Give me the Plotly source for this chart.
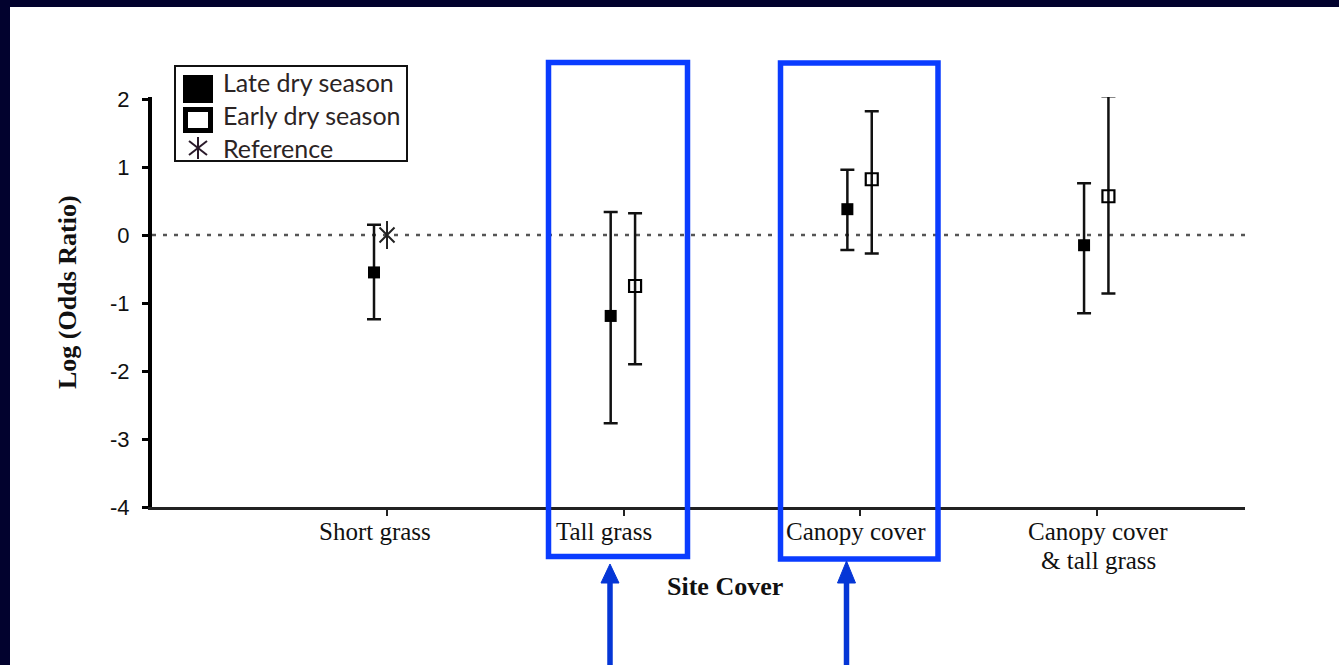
import plotly.graph_objects as go

# ---- data -------------------------------------------------------------
categories = ["Short grass", "Tall grass", "Canopy cover", "Canopy cover<br>& tall grass"]

late_idx = [0, 1, 2, 3]
late_val = [-0.55, -1.19, 0.38, -0.15]
late_lo = [-1.24, -2.77, -0.22, -1.15]
late_hi = [0.15, 0.34, 0.96, 0.76]

early_idx = [1, 2, 3]
early_val = [-0.75, 0.82, 0.57]
early_lo = [-1.90, -0.27, -0.86]
early_hi = [0.32, 1.82, 2.04]

ref_idx = [0]
ref_val = [0.0]

y_ticks = [-4, -3, -2, -1, 0, 1, 2]
y_ticktext = ["-4", "-3", "-2", "-1", "0", "1", "2"]

# ---- layout geometry (pixels) ----------------------------------------
W, H = 1339, 665
L, R, T, B = 152, 1245, 97, 507
NAVY = "#02022e"
BLUE = "#0a3cff"
ARROW = "#0536d6"
LATE_OFF, EARLY_OFF = -0.055, 0.048
LABEL_SHIFT = [-12, -20, -4, 1]      # horizontal nudge of each category label (px)
LABEL_Y, LABEL_LINE = 531, 29        # category label baseline row and line spacing (px)


def px_x(p):
    return (p - L) / (R - L)


def px_y(p):
    return (B - p) / (B - T)


fig = go.Figure()

err_style = dict(type="data", symmetric=False, thickness=2.5, width=7, color="#111111")

fig.add_trace(go.Scatter(
    x=[i + LATE_OFF for i in late_idx], y=late_val, mode="markers",
    marker=dict(symbol="square", size=12, color="#000000"),
    error_y=dict(array=[h - v for h, v in zip(late_hi, late_val)],
                 arrayminus=[v - l for v, l in zip(late_val, late_lo)], **err_style),
    cliponaxis=False, showlegend=False, name="Late dry season"))

fig.add_trace(go.Scatter(
    x=[i + EARLY_OFF for i in early_idx], y=early_val, mode="markers",
    marker=dict(symbol="square-open", size=12, color="#000000", line=dict(width=2.2)),
    error_y=dict(array=[h - v for h, v in zip(early_hi, early_val)],
                 arrayminus=[v - l for v, l in zip(early_val, early_lo)], **err_style),
    cliponaxis=False, showlegend=False, name="Early dry season"))

# reference point: six-armed asterisk built from an X and a vertical stroke
fig.add_trace(go.Scatter(
    x=ref_idx, y=ref_val, mode="markers",
    marker=dict(symbol="x-thin-open", size=15, color="#222222", line=dict(width=2, color="#222222")),
    cliponaxis=False, showlegend=False, name="Reference"))
fig.add_trace(go.Scatter(
    x=ref_idx, y=ref_val, mode="markers",
    marker=dict(symbol="line-ns-open", size=20, color="#222222", line=dict(width=2, color="#222222")),
    cliponaxis=False, showlegend=False, hoverinfo="skip"))

shapes = []
# white page area inside the navy frame
shapes.append(dict(type="rect", xref="paper", yref="paper", layer="below",
                   x0=px_x(10), x1=px_x(W + 5), y0=px_y(7), y1=px_y(H + 5),
                   fillcolor="white", line=dict(width=0)))
# dotted zero line
shapes.append(dict(type="line", xref="paper", yref="y", layer="below",
                   x0=0, x1=px_x(1247), y0=0, y1=0,
                   line=dict(color="#555555", width=2.5, dash="4px,7px")))

# legend frame and symbols
shapes.append(dict(type="rect", xref="paper", yref="paper",
                   x0=px_x(175), x1=px_x(407), y0=px_y(66), y1=px_y(161),
                   line=dict(color="#111111", width=2), fillcolor="white"))
shapes.append(dict(type="rect", xref="paper", yref="paper",
                   x0=px_x(183), x1=px_x(213), y0=px_y(75), y1=px_y(103),
                   line=dict(width=0), fillcolor="#000000"))
shapes.append(dict(type="rect", xref="paper", yref="paper",
                   x0=px_x(185.5), x1=px_x(210.5), y0=px_y(109.5), y1=px_y(130.5),
                   line=dict(color="#000000", width=5), fillcolor="white"))
for (xa, ya, xb, yb) in [(198, 137, 198, 159), (189, 141, 207, 155), (189, 155, 207, 141)]:
    shapes.append(dict(type="line", xref="paper", yref="paper",
                       x0=px_x(xa), y0=px_y(ya), x1=px_x(xb), y1=px_y(yb),
                       line=dict(color="#2a1a2a", width=2)))

# highlight boxes
for (x0, y0, x1, y1) in [(548.5, 62.5, 687.5, 556.5), (780.5, 63, 938, 559)]:
    shapes.append(dict(type="rect", xref="paper", yref="paper",
                       x0=px_x(x0), x1=px_x(x1), y0=px_y(y0), y1=px_y(y1),
                       line=dict(color=BLUE, width=5.5)))

# upward arrows
for (ax, tip) in [(610, 564), (846.5, 561)]:
    shapes.append(dict(type="line", xref="paper", yref="paper",
                       x0=px_x(ax), x1=px_x(ax), y0=px_y(580), y1=px_y(H + 10),
                       line=dict(color=ARROW, width=5.5)))
    path = "M {:.5f},{:.5f} L {:.5f},{:.5f} L {:.5f},{:.5f} Z".format(
        px_x(ax - 9), px_y(583), px_x(ax + 9), px_y(583), px_x(ax), px_y(tip))
    shapes.append(dict(type="path", xref="paper", yref="paper", path=path,
                       fillcolor=ARROW, line=dict(color=ARROW, width=1)))

annotations = []
# category labels under the x axis (one annotation per text line)
for i, (label, shift) in enumerate(zip(categories, LABEL_SHIFT)):
    for k, line in enumerate(label.split("<br>")):
        annotations.append(dict(text=line, xref="x", yref="paper", x=i, xshift=shift,
                                y=px_y(LABEL_Y + k * LABEL_LINE), xanchor="center",
                                yanchor="middle", showarrow=False,
                                font=dict(family="Liberation Serif", size=25, color="#111111")))

for txt, yc in [("Late dry season", 82), ("Early dry season", 115), ("Reference", 148)]:
    annotations.append(dict(text=txt, xref="paper", yref="paper", x=px_x(221), y=px_y(yc),
                            xanchor="left", yanchor="middle", showarrow=False,
                            font=dict(family="Lato", size=25, color="#2b2424")))

annotations.append(dict(text="<b>Log (Odds Ratio)</b>", xref="paper", yref="paper",
                        x=px_x(67), y=px_y(292), textangle=-90, showarrow=False,
                        xanchor="center", yanchor="middle",
                        font=dict(family="Liberation Serif", size=26, color="#111111")))
annotations.append(dict(text="<b>Site Cover</b>", xref="paper", yref="paper",
                        x=px_x(725), y=px_y(586), showarrow=False,
                        xanchor="center", yanchor="middle",
                        font=dict(family="Liberation Serif", size=26, color="#111111")))

fig.update_layout(
    width=W, height=H,
    margin=dict(l=L, r=W - R, t=T, b=H - B, pad=0),
    paper_bgcolor=NAVY, plot_bgcolor="rgba(0,0,0,0)",
    shapes=shapes, annotations=annotations, showlegend=False,
    xaxis=dict(range=[-0.993, 3.625], tickmode="array", tickvals=list(range(len(categories))),
               showticklabels=False, showgrid=False, zeroline=False,
               showline=True, linecolor="#222222", linewidth=2.5,
               ticks="outside", ticklen=6, tickwidth=2, tickcolor="#222222"),
    yaxis=dict(range=[-4, 2.03], tickmode="array", tickvals=y_ticks, ticktext=y_ticktext,
               showgrid=False, zeroline=False,
               showline=True, linecolor="#000000", linewidth=4,
               ticks="outside", ticklen=6, tickwidth=3, tickcolor="#000000",
               ticklabelstandoff=8,
               tickfont=dict(family="Liberation Sans", size=22, color="#111111")),
)

fig.write_html("out.html")
